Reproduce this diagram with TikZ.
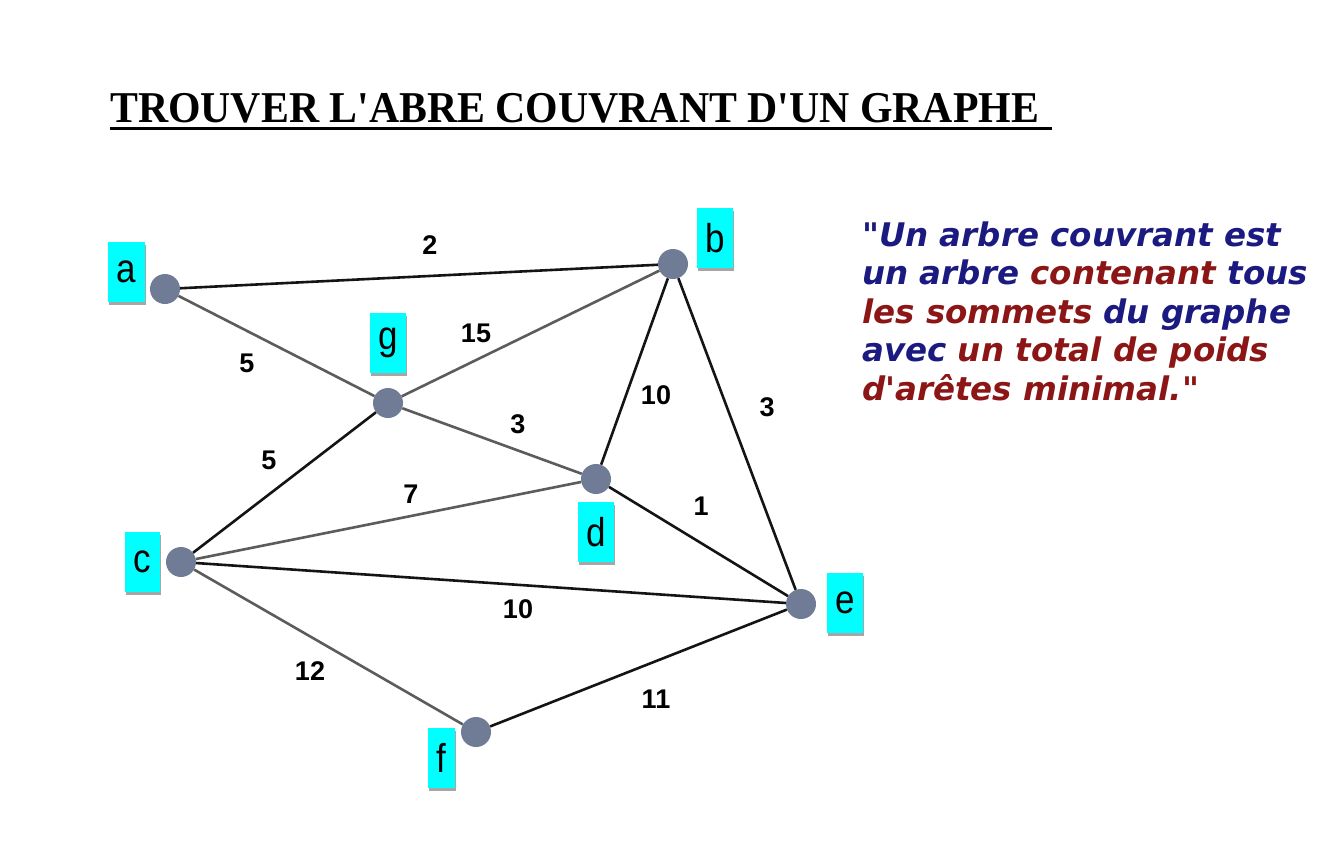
\documentclass[tikz,border=0pt]{standalone}
\usepackage{graphicx}
\usepackage{fontspec}
\setmainfont{Liberation Serif}[Ligatures=TeXOff]
\newfontfamily\labelfont{Liberation Sans}[Ligatures=TeXOff]
\newfontfamily\quotefont{DejaVu Sans}[Ligatures=TeXOff, BoldItalicFont={DejaVu Sans Bold Oblique}, BoldFont={DejaVu Sans Bold}, ItalicFont={DejaVu Sans Oblique}]
\usetikzlibrary{shadows}
\definecolor{nodegray}{RGB}{112,124,150}
\definecolor{tagcyan}{RGB}{0,255,255}
\definecolor{qnavy}{RGB}{26,26,128}
\definecolor{qred}{RGB}{140,22,22}
\definecolor{edgegrey}{RGB}{92,92,92}
\newcommand{\stretchy}[1]{\scalebox{1}[1.15]{#1}}
\begin{document}
\begin{tikzpicture}[x=1pt,y=-1pt,
  vertex/.style={circle, fill=nodegray, minimum size=30pt, inner sep=0pt},
  tag/.style={fill=tagcyan, minimum width=36pt, minimum height=60pt, inner sep=0pt,
    font=\labelfont\fontsize{35}{35}\selectfont,
    drop shadow={shadow xshift=1pt, shadow yshift=-2.5pt, opacity=0.35, fill=black}},
  edgedark/.style={line width=2.6pt, draw=black!92},
  edgegray/.style={line width=2.6pt, draw=edgegrey},
  weight/.style={font=\labelfont\bfseries\fontsize{27}{27}\selectfont, inner sep=0pt},
  qline/.style={anchor=base west, inner sep=0pt, font=\quotefont\bfseries\itshape\fontsize{32.5}{32.5}\selectfont}
]
\useasboundingbox (0,0) rectangle (1340,844);
\fill[white] (0,0) rectangle (1340,844);

% title
\node[anchor=base west, inner sep=0pt, xscale=0.95, font=\bfseries\fontsize{44}{44}\selectfont] (title) at (110,122) {TROUVER L'ABRE COUVRANT D'UN GRAPHE};
\draw[line width=3pt] (110,128) -- (1052,128);

% vertices
\node[vertex] (a) at (165,289) {};
\node[vertex] (b) at (673,264) {};
\node[vertex] (g) at (388,403) {};
\node[vertex] (d) at (596,479) {};
\node[vertex] (c) at (181,562) {};
\node[vertex] (e) at (801,604) {};
\node[vertex] (f) at (476,732) {};

% tags
\node[tag, minimum width=37pt] (ta) at (126,272) {\stretchy{a}};
\node[tag] (tb) at (715,238) {\stretchy{b}};
\node[tag] (tg) at (388,343) {\stretchy{g}};
\node[tag] (td) at (596,532) {\stretchy{d}};
\node[tag, minimum width=35pt] (tc) at (142,562) {\stretchy{c}};
\node[tag] (te) at (845,603) {\stretchy{e}};
\node[tag, minimum width=27pt] (tf) at (441,758) {\stretchy{f}};

% edges
\draw[edgedark] (a) -- (b);
\draw[edgegray] (a) -- (g);
\draw[edgegray] (g) -- (b);
\draw[edgegray] (g) -- (d);
\draw[edgedark] (b) -- (d);
\draw[edgedark] (b) -- (e);
\draw[edgedark] (d) -- (e);
\draw[edgedark] (c) -- (g);
\draw[edgegray] (c) -- (d);
\draw[edgedark] (c) -- (e);
\draw[edgegray] (c) -- (f);
\draw[edgedark] (f) -- (e);

% weights
\node[weight] (wab) at (430,245) {2};
\node[weight] (wag) at (247,363) {5};
\node[weight] (wgb) at (476,333) {15};
\node[weight] (wbd) at (656,395) {10};
\node[weight] (wbe) at (767,407) {3};
\node[weight] (wgd) at (518,424) {3};
\node[weight] (wcg) at (269,460) {5};
\node[weight] (wcd) at (411,494) {7};
\node[weight] (wde) at (701,506) {1};
\node[weight] (wce) at (518,609) {10};
\node[weight] (wcf) at (310,671) {12};
\node[weight] (wfe) at (656,699) {11};

% quote
\node[qline] (q1) at (862,246) {\color{qnavy}"Un arbre couvrant est};
\node[qline] (q2) at (862,284.5) {\color{qnavy}un arbre \color{qred}contenant \color{qnavy}tous};
\node[qline] (q3) at (862,323) {\color{qred}les sommets \color{qnavy}du graphe};
\node[qline] (q4) at (862,361.5) {\color{qnavy}avec \color{qred}un total de poids};
\node[qline] (q5) at (862,400) {\color{qred}d'arêtes minimal."};
\end{tikzpicture}
\end{document}
